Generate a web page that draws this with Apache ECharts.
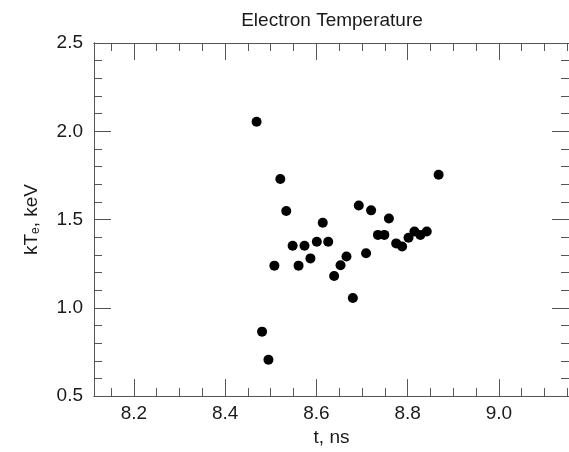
<!DOCTYPE html>
<html>
<head>
<meta charset="utf-8">
<title>Electron Temperature</title>
<script src="https://cdn.jsdelivr.net/npm/echarts@6/dist/echarts.min.js"></script>
<style>
  html, body { margin: 0; padding: 0; background: #fff; overflow: hidden; }
  #chart { width: 569px; height: 452px; }
</style>
</head>
<body>
<div id="chart"></div>
<script>
// Electron temperature measurements (time in ns, kTe in keV)
const timeNs = [
  8.469, 8.481, 8.495, 8.508, 8.521, 8.534, 8.548, 8.561, 8.574, 8.587,
  8.601, 8.614, 8.626, 8.639, 8.653, 8.666, 8.680, 8.693, 8.709, 8.720,
  8.735, 8.749, 8.759, 8.775, 8.788, 8.802, 8.815, 8.828, 8.842, 8.868
];
const kTe = [
  2.054, 0.865, 0.706, 1.239, 1.730, 1.548, 1.352, 1.239, 1.352, 1.280,
  1.374, 1.482, 1.374, 1.180, 1.241, 1.291, 1.056, 1.580, 1.309, 1.552,
  1.413, 1.413, 1.506, 1.365, 1.347, 1.397, 1.432, 1.413, 1.432, 1.754
];

// Axis ranges and tick positions
const xRange = [8.1126, 9.1538];
const yRange = [0.5, 2.5];
const xMajorTicks = [8.2, 8.4, 8.6, 8.8, 9.0];
const xMinorTicks = [8.15, 8.25, 8.3, 8.35, 8.45, 8.5, 8.55, 8.65, 8.7, 8.75, 8.85, 8.9, 8.95, 9.05, 9.1, 9.15];
const yMajorTicks = [0.5, 1.0, 1.5, 2.0, 2.5];
const yMinorTicks = [0.6, 0.7, 0.8, 0.9, 1.1, 1.2, 1.3, 1.4, 1.6, 1.7, 1.8, 1.9, 2.1, 2.2, 2.3, 2.4];

const FONT = '"Liberation Sans", Arial, Helvetica, sans-serif';
const AXIS_COLOR = '#555';
const TEXT_COLOR = '#1a1a1a';

function makeAxis(dim, position, ticks, len, withLabels) {
  const range = dim === 'x' ? xRange : yRange;
  const ax = {
    type: 'value',
    position: position,
    min: range[0],
    max: range[1],
    axisLine: { show: true, onZero: false, lineStyle: { color: AXIS_COLOR, width: 1 } },
    axisTick: {
      show: true, inside: true, length: len,
      customValues: ticks,
      lineStyle: { color: AXIS_COLOR, width: 1 }
    },
    axisLabel: { show: false },
    splitLine: { show: false }
  };
  if (withLabels) {
    ax.axisLabel = {
      show: true,
      customValues: dim === 'x' ? xMajorTicks : yMajorTicks,
      formatter: v => Number(v).toFixed(1),
      fontFamily: FONT,
      fontSize: 19,
      color: TEXT_COLOR,
      margin: dim === 'x' ? 8 : 11
    };
  }
  return ax;
}

const xAxes = [
  makeAxis('x', 'bottom', xMajorTicks, 17, true),
  makeAxis('x', 'bottom', xMinorTicks, 8, false),
  makeAxis('x', 'top', xMajorTicks, 17, false),
  makeAxis('x', 'top', xMinorTicks, 8, false)
];
Object.assign(xAxes[0], {
  name: 't, ns',
  nameLocation: 'middle',
  nameGap: 31,
  nameTextStyle: { fontFamily: FONT, fontSize: 19, color: TEXT_COLOR }
});

const yAxes = [
  makeAxis('y', 'left', yMajorTicks, 17, true),
  makeAxis('y', 'left', yMinorTicks, 8, false),
  makeAxis('y', 'right', yMajorTicks, 17, false),
  makeAxis('y', 'right', yMinorTicks, 8, false)
];
Object.assign(yAxes[0], {
  name: 'kT{sub|e}, keV',
  nameLocation: 'middle',
  nameGap: 52,
  nameTextStyle: {
    fontFamily: FONT, fontSize: 19, color: TEXT_COLOR,
    rich: {
      sub: { fontFamily: FONT, fontSize: 12, color: TEXT_COLOR, verticalAlign: 'bottom', padding: [8, 0, 0, 0] }
    }
  }
});

const chart = echarts.init(document.getElementById('chart'), null, { renderer: 'canvas' });
chart.setOption({
  animation: false,
  backgroundColor: '#fff',
  title: {
    text: 'Electron Temperature',
    left: 327,
    top: 6,
    textAlign: 'center',
    textStyle: { fontFamily: FONT, fontSize: 19, fontWeight: 'normal', color: TEXT_COLOR }
  },
  grid: { left: 94, top: 43, width: 480, height: 360, containLabel: false },
  xAxis: xAxes,
  yAxis: yAxes,
  series: [{
    type: 'scatter',
    xAxisIndex: 0,
    yAxisIndex: 0,
    symbol: 'circle',
    symbolSize: 10,
    itemStyle: { color: '#000', opacity: 1 },
    data: timeNs.map((t, i) => [t, kTe[i]])
  }]
});
</script>
</body>
</html>
